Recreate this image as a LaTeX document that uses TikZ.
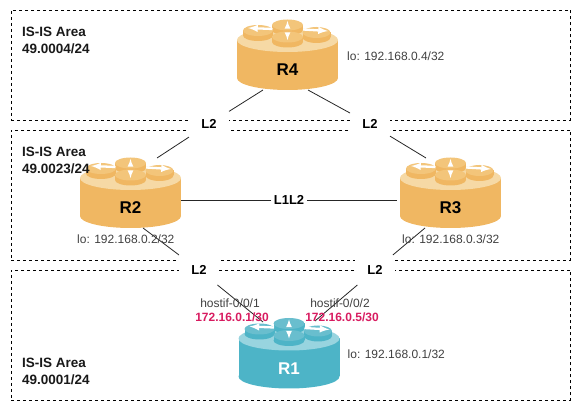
\documentclass[tikz,border=0pt]{standalone}
\usepackage{fontspec}
\setmainfont{Liberation Sans}
\usepackage{xcolor}
\definecolor{amber}{RGB}{240,183,98}
\definecolor{amberlight}{RGB}{246,217,165}
\definecolor{amberdisc}{RGB}{243,197,122}
\definecolor{lagoon}{RGB}{77,180,199}
\definecolor{lagoonlight}{RGB}{152,212,223}
\definecolor{lagoondisc}{RGB}{105,190,206}
\definecolor{ipred}{RGB}{216,27,96}
\newcommand{\sizedfont}[2]{\fontsize{#1}{#2}\selectfont}
\tikzset{
  pics/router/.style n args={5}{code={
    \fill [#1] (-50.5,-15) rectangle (50.5,23);
    \fill [#1] (0,23) ellipse [x radius=50.5, y radius=12];
    \fill [#2] (0,-15) ellipse [x radius=50.5, y radius=12];
    \foreach \dx/\dy/\rx in {0/-30/15.5, -29.5/-24.5/15, 29/-22.5/14} {
      \fill [#1] (\dx-\rx,\dy) rectangle (\dx+\rx,\dy+5);
      \fill [#1] (\dx,\dy+5) ellipse [x radius=\rx, y radius=5.5];
      \fill [#3] (\dx,\dy) ellipse [x radius=\rx, y radius=5.5];
    }
    \draw [white, line width=2.3pt, -latex] (-15,-26) -- (-39.5,-27);
    \draw [white, line width=2.3pt, -latex] (15.5,-25.5) -- (40.5,-24);
    \draw [white, line width=1.6pt, -latex] (0,-28) -- (0,-34);
    \fill [#1] (-15.5,-18) rectangle (15.5,-13);
    \fill [#1] (0,-13) ellipse [x radius=15.5, y radius=5.5];
    \fill [#3] (0,-18) ellipse [x radius=15.5, y radius=5.5];
    \draw [white, line width=1.6pt, -latex] (0,-22) -- (0,-15);
    \node [minimum width=101pt, minimum height=70pt, inner sep=0pt, outer sep=0pt] (box) at (0,0) {};
    \node [text=#4, font=\sizedfont{17}{20}\bfseries] (name) at (0,15) {#5};
  }}
}

\begin{document}
\begin{tikzpicture}[x=1pt, y=-1pt]
    \tikzstyle{areabox} = [draw, dashed, line width=0.8pt, minimum width=559.5pt, inner sep=0pt, outer sep=0pt]
    \tikzstyle{areatext} = [anchor=west, align=left, inner sep=0pt, text=black!90, font=\sizedfont{13.5}{17}\bfseries]
    \tikzstyle{link} = [fill=white, inner sep=0pt, outer sep=0pt, minimum width=40pt, minimum height=30pt, font=\sizedfont{13}{15}\bfseries]
    \tikzstyle{wire} = [line width=0.8pt, black!85]
    \tikzstyle{addr} = [anchor=west, inner sep=0pt, text=black!75, font=\sizedfont{12}{14}]
    \tikzstyle{port} = [inner sep=0pt, text=black!75, font=\sizedfont{12}{14}]
    \tikzstyle{portip} = [inner sep=0pt, text=ipred, font=\sizedfont{12}{14}\bfseries]

    \useasboundingbox (0,0) rectangle (581,411);

    \node [areabox, minimum height=110pt] (area4) at (290.75,65) {};
    \node [areabox, minimum height=130pt] (area23) at (290.75,195) {};
    \node [areabox, minimum height=130pt] (area1) at (290.75,335) {};

    \pic (R4) at (287.5,55) {router={amber}{amberlight}{amberdisc}{black}{R4}};
    \pic (R2) at (130.5,193) {router={amber}{amberlight}{amberdisc}{black}{R2}};
    \pic (R3) at (450.5,193) {router={amber}{amberlight}{amberdisc}{black}{R3}};
    \pic (R1) at (289,353.5) {router={lagoon}{lagoonlight}{lagoondisc}{white}{R1}};

    \node [link] (l42) at (209,124) {L2};
    \node [link] (l43) at (370,124) {L2};
    \node [link] (l21) at (199,270) {L2};
    \node [link] (l31) at (375,270) {L2};
    \node [link, minimum width=36pt, minimum height=20pt] (l23) at (289,200) {L1L2};

    \draw [wire] (l42) -- ([xshift=-24.5pt]R4box.south);
    \draw [wire] (l43) -- ([xshift=20.5pt]R4box.south);
    \draw [wire] (l42) -- ([xshift=26.5pt]R2box.north);
    \draw [wire] (l43) -- ([xshift=-24.5pt]R3box.north);
    \draw [wire] (l23) -- ([yshift=-7pt]R2box.east);
    \draw [wire] (l23) -- ([xshift=-3pt,yshift=-7pt]R3box.west);
    \draw [wire] (l21) -- ([xshift=12.5pt]R2box.south);
    \draw [wire] (l31) -- ([xshift=-25.5pt]R3box.south);
    \draw [wire] (l21) -- ([xshift=-26pt,yshift=-3.5pt]R1box.north);
    \draw [wire] (l31) -- ([xshift=26pt,yshift=-2.5pt]R1box.north);

    \node [areatext] (txt4) at (22,40.5) {IS-IS Area\\49.0004/24};
    \node [areatext] (txt23) at (22,160.5) {IS-IS Area\\49.0023/24};
    \node [areatext] (txt1) at (22,371.5) {IS-IS Area\\49.0001/24};

    \node [addr] (lo4) at (347,56) {lo: 192.168.0.4/32};
    \node [addr] (lo2) at (77,239) {lo: 192.168.0.2/32};
    \node [addr] (lo3) at (402,239) {lo: 192.168.0.3/32};
    \node [addr] (lo1) at (347.5,354) {lo: 192.168.0.1/32};

    \node [port] (if1) at (230,303) {hostif-0/0/1};
    \node [port] (if2) at (340,303) {hostif-0/0/2};
    \node [portip] (ip1) at (232,317) {172.16.0.1/30};
    \node [portip] (ip2) at (342,317) {172.16.0.5/30};
\end{tikzpicture}
\end{document}
